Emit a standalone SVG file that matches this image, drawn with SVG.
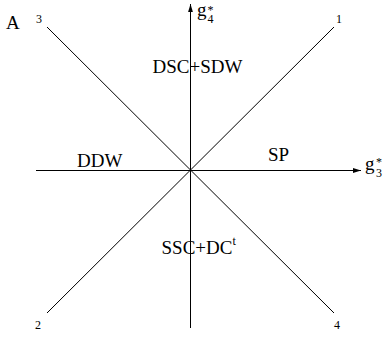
<svg xmlns="http://www.w3.org/2000/svg" width="383" height="339" viewBox="0 0 383 339">
<defs>
<marker id="arr" viewBox="0 0 10 6" refX="10" refY="3" markerWidth="8" markerHeight="5" markerUnits="userSpaceOnUse" orient="auto">
<path d="M0,0 L10,3 L0,6 z" fill="#000"/>
</marker>
</defs>
<style>
.ln{stroke:#000;stroke-width:1;fill:none}
.lbl{font-family:"Liberation Serif","Times New Roman",serif;font-size:19px;fill:#000}
.num{font-family:"Liberation Serif","Times New Roman",serif;font-size:12px;fill:#000}
.sub{font-family:"Liberation Serif","Times New Roman",serif;font-size:12px;fill:#000}
</style>
<rect width="383" height="339" fill="#fff"/>
<g id="connectors">
<line class="ln" x1="190.5" y1="328" x2="190.5" y2="4" marker-end="url(#arr)"/>
<line class="ln" x1="36" y1="170.5" x2="361" y2="170.5" marker-end="url(#arr)"/>
<line class="ln" x1="47" y1="27" x2="334" y2="313"/>
<line class="ln" x1="334" y1="27" x2="47" y2="313"/>
</g>
<g id="label-A"><text class="lbl" x="6" y="29">A</text></g>
<g id="n3"><text class="num" x="36" y="23">3</text></g>
<g id="n1"><text class="num" x="336" y="23">1</text></g>
<g id="n2"><text class="num" x="35" y="329">2</text></g>
<g id="n4"><text class="num" x="334" y="329">4</text></g>
<g id="g4"><text class="lbl" x="197" y="16">g</text><text class="sub" x="207.5" y="14">*</text><text class="sub" x="207.5" y="22.5">4</text></g>
<g id="g3"><text class="lbl" x="365" y="170">g</text><text class="sub" x="376" y="166">*</text><text class="sub" x="376" y="177">3</text></g>
<g id="DSC"><text class="lbl" x="152.5" y="72.5">DSC+SDW</text></g>
<g id="DDW"><text class="lbl" x="77" y="166.5">DDW</text></g>
<g id="SP"><text class="lbl" x="268" y="161">SP</text></g>
<g id="SSC"><text class="lbl" x="161.5" y="253.5">SSC+DC<tspan class="sub" dy="-9">t</tspan></text></g>
</svg>
